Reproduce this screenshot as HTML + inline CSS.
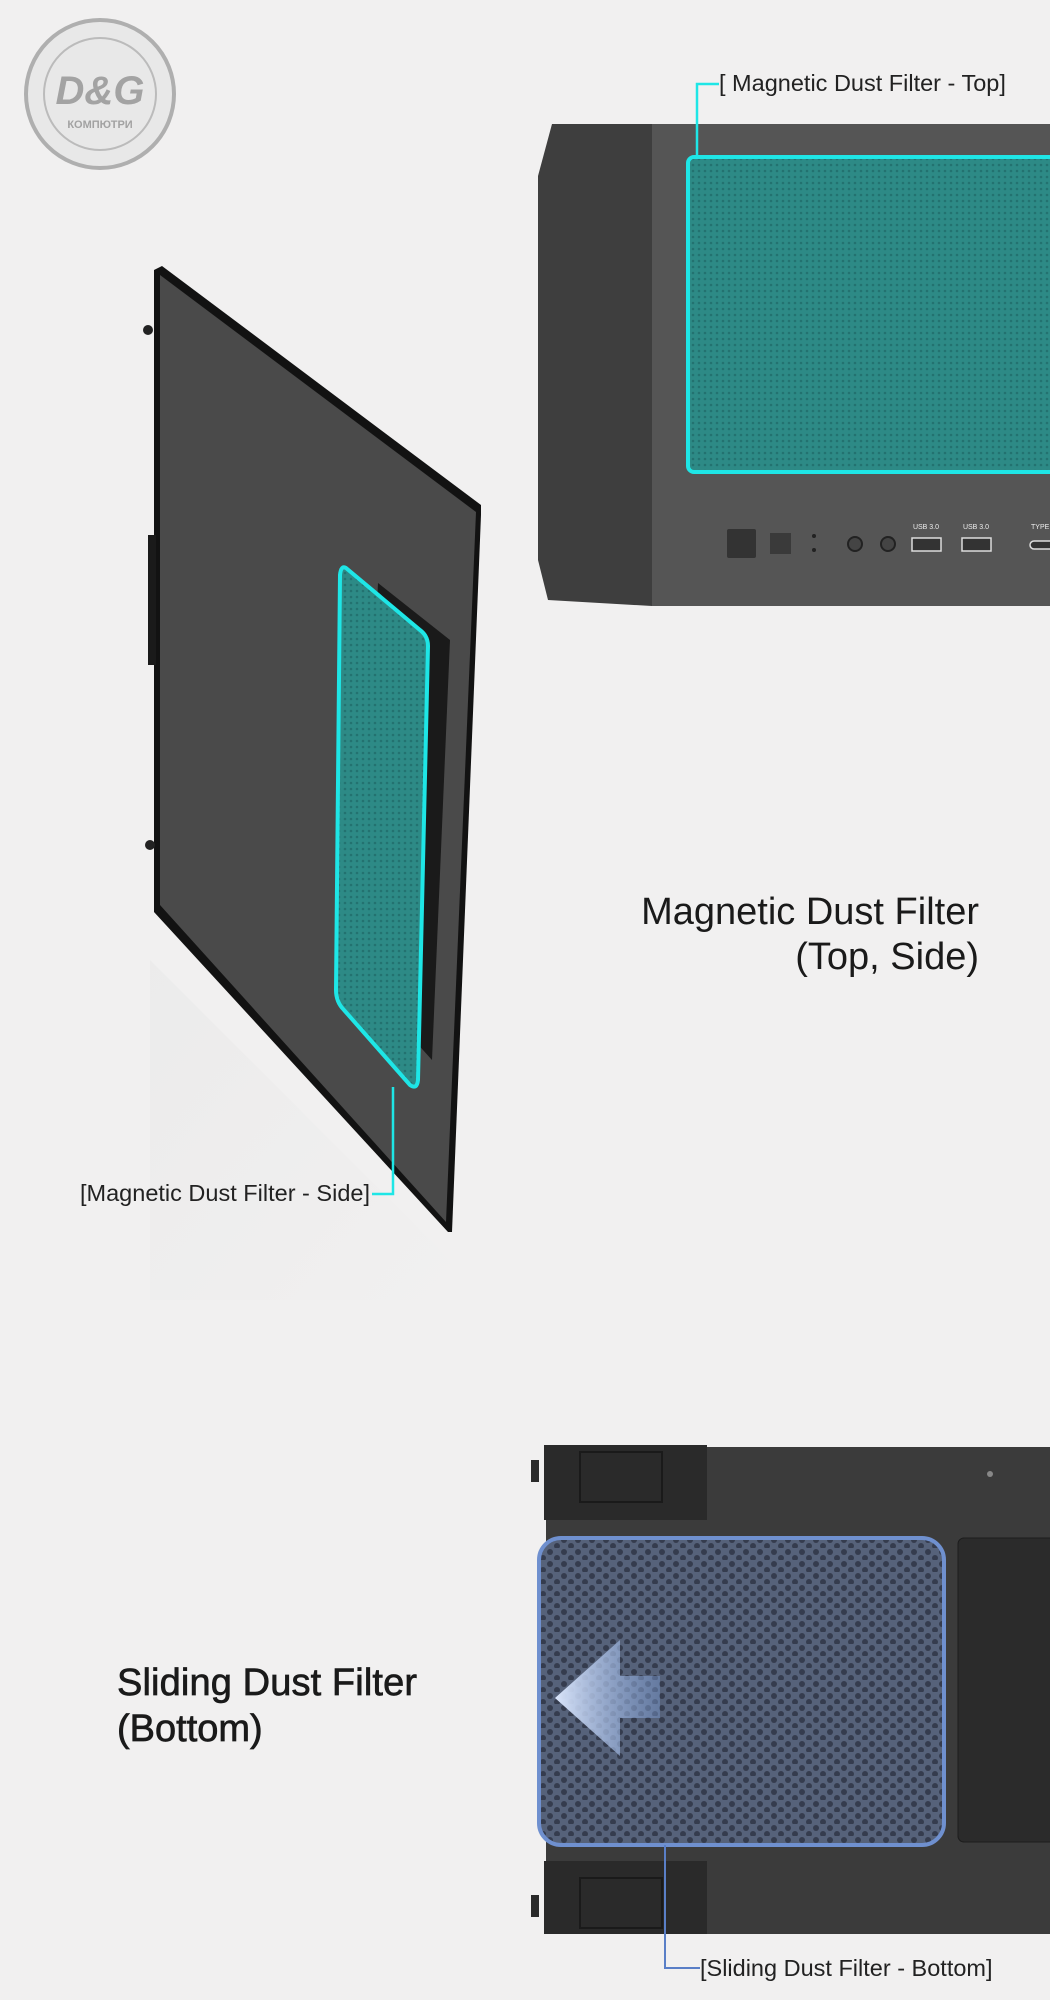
<!DOCTYPE html>
<html><head><meta charset="utf-8"><style>
html,body{margin:0;padding:0;background:#f1f0f0;}
svg{display:block}
text{font-family:"Liberation Sans","DejaVu Sans",sans-serif;}
</style></head><body>
<svg width="1050" height="2000" viewBox="0 0 1050 2000" xmlns="http://www.w3.org/2000/svg">
<defs>
<pattern id="mesh" width="6" height="6" patternUnits="userSpaceOnUse">
<rect width="6" height="6" fill="#2d8a86"/><circle cx="3" cy="3" r="1.3" fill="#237270"/>
</pattern>
<pattern id="hex" width="14" height="12" patternUnits="userSpaceOnUse">
<rect width="14" height="12" fill="#56627a"/><circle cx="4" cy="4" r="3" fill="#353c4e"/><circle cx="11" cy="10" r="3" fill="#353c4e"/>
</pattern>
<linearGradient id="shadow" x1="0" y1="0" x2="1" y2="1">
<stop offset="0" stop-color="#e8e8e8"/><stop offset="1" stop-color="#f1f0f0"/>
</linearGradient>
<linearGradient id="arr" x1="0" y1="0" x2="1" y2="0">
<stop offset="0" stop-color="#dbe6fb"/><stop offset="1" stop-color="#7d9fd9" stop-opacity="0.4"/>
</linearGradient>
</defs>

<g opacity="0.75">
<circle cx="100" cy="94" r="74" fill="#e6e6e6" stroke="#9a9a9a" stroke-width="4"/>
<circle cx="100" cy="94" r="56" fill="none" stroke="#aaa" stroke-width="2"/>
<text x="100" y="104" font-family="Liberation Serif" font-size="40" font-style="italic" font-weight="bold" fill="#8a8a8a" text-anchor="middle">D&amp;G</text>
<text x="100" y="128" font-size="11" font-weight="bold" fill="#888" text-anchor="middle">КОМПЮТРИ</text>
</g>

<path d="M552 124 L652 124 L652 606 L548 600 L538 560 L538 176 Z" fill="#3e3e3e"/>
<rect x="652" y="124" width="398" height="482" fill="#555"/>
<rect x="688" y="157" width="380" height="315" rx="6" fill="url(#mesh)" stroke="#1ee6e6" stroke-width="4"/>
<polyline points="719,84 697,84 697,157" fill="none" stroke="#1ee6e6" stroke-width="2.5"/>
<text x="719" y="91" font-size="23.5" fill="#222">[ Magnetic Dust Filter - Top]</text>
<rect x="727" y="529" width="29" height="29" rx="2" fill="#333"/>
<rect x="770" y="533" width="21" height="21" fill="#3a3a3a"/>
<circle cx="814" cy="536" r="2" fill="#222"/><circle cx="814" cy="550" r="2" fill="#222"/>
<circle cx="855" cy="544" r="7" fill="#444" stroke="#222" stroke-width="2"/>
<circle cx="888" cy="544" r="7" fill="#444" stroke="#222" stroke-width="2"/>
<rect x="912" y="538" width="29" height="13" fill="#333" stroke="#ddd" stroke-width="1.5"/>
<rect x="962" y="538" width="29" height="13" fill="#333" stroke="#ddd" stroke-width="1.5"/>
<rect x="1030" y="541" width="25" height="8" rx="4" fill="#333" stroke="#ddd" stroke-width="1.5"/>
<text x="926" y="529" font-size="7" fill="#eee" text-anchor="middle">USB 3.0</text>
<text x="976" y="529" font-size="7" fill="#eee" text-anchor="middle">USB 3.0</text>
<text x="1031" y="529" font-size="7" fill="#eee">TYPE C</text>

<path d="M150 960 L450 1260 L450 1300 L150 1300 Z" fill="url(#shadow)" opacity="0.6"/>
<path d="M154 270 L162 266 L481 505 L481 515 L452 1232 L448 1232 L154 912 Z" fill="#121212"/>
<path d="M160 275 L476 512 L446 1222 L160 905 Z" fill="#4a4a4a"/>
<rect x="148" y="535" width="8" height="130" fill="#1a1a1a"/>
<circle cx="148" cy="330" r="5" fill="#222"/><circle cx="150" cy="845" r="5" fill="#222"/>
<path d="M378 583 L450 640 L432 1060 L360 980 Z" fill="#1a1a1a"/>
<path d="M346 568 L420 630 Q428 636 428 646 L418 1080 Q417 1090 410 1085 L344 1010 Q336 1002 336 990 L340 575 Q341 565 346 568 Z" fill="url(#mesh)" stroke="#1ee6e6" stroke-width="4"/>
<polyline points="372,1194 393,1194 393,1087" fill="none" stroke="#1ee6e6" stroke-width="2.5"/>
<text x="80" y="1201" font-size="23.5" fill="#222" textLength="290">[Magnetic Dust Filter - Side]</text>

<text x="979" y="924" font-size="38" fill="#1a1a1a" text-anchor="end">Magnetic Dust Filter</text>
<text x="979" y="969" font-size="38" fill="#1a1a1a" text-anchor="end">(Top, Side)</text>

<rect x="546" y="1447" width="504" height="487" fill="#3b3b3b"/>
<rect x="544" y="1445" width="163" height="75" fill="#2a2a2a"/>
<rect x="580" y="1452" width="82" height="50" fill="none" stroke="#1a1a1a" stroke-width="2"/>
<rect x="544" y="1861" width="163" height="73" fill="#2a2a2a"/>
<rect x="580" y="1878" width="82" height="50" fill="none" stroke="#1a1a1a" stroke-width="2"/>
<rect x="531" y="1460" width="8" height="22" fill="#2a2a2a"/>
<rect x="531" y="1895" width="8" height="22" fill="#2a2a2a"/>
<circle cx="990" cy="1474" r="3" fill="#888"/>
<rect x="958" y="1538" width="100" height="304" rx="6" fill="#2b2b2b" stroke="#1c1c1c"/>
<rect x="539" y="1538" width="405" height="307" rx="22" fill="url(#hex)" stroke="#6f90cf" stroke-width="4"/>
<path d="M555 1698 L620 1640 L620 1676 L660 1676 L660 1718 L620 1718 L620 1756 Z" fill="url(#arr)"/>
<polyline points="665,1845 665,1968 700,1968" fill="none" stroke="#5a7fc7" stroke-width="2"/>
<text x="700" y="1976" font-size="23.5" fill="#222">[Sliding Dust Filter - Bottom]</text>

<text x="117" y="1695" font-size="38" fill="#1a1a1a" stroke="#1a1a1a" stroke-width="0.7" textLength="300">Sliding Dust Filter</text>
<text x="117" y="1741" font-size="38" fill="#1a1a1a" stroke="#1a1a1a" stroke-width="0.7">(Bottom)</text>
</svg>
</body></html>
